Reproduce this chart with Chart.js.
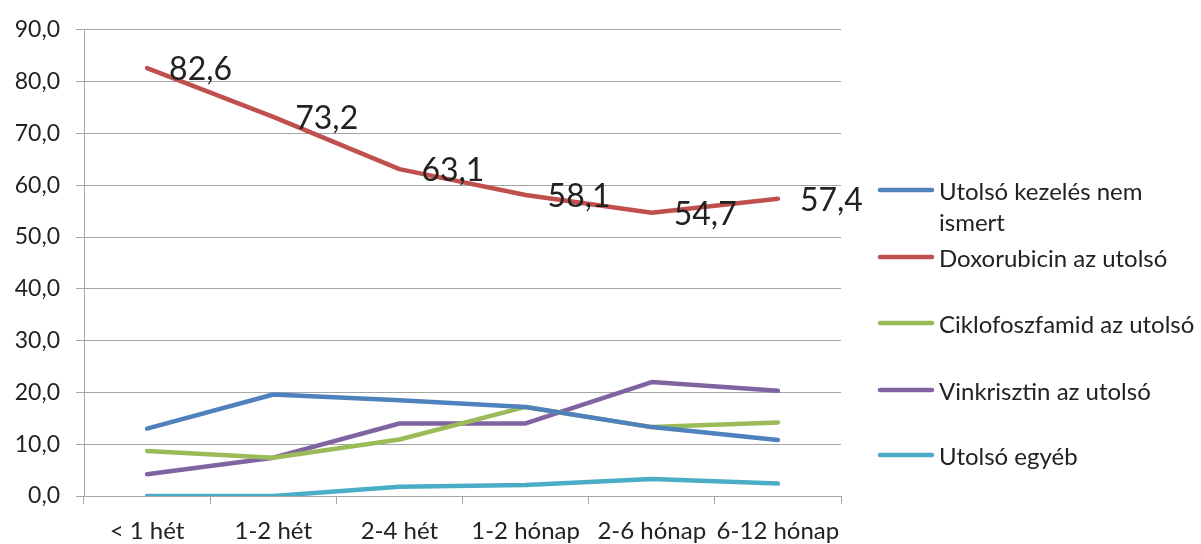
<!DOCTYPE html>
<html>
<head>
<meta charset="utf-8">
<script src="https://cdn.jsdelivr.net/npm/chart.js@4"></script>
<style>
  html, body { margin: 0; padding: 0; background: #fff; }
  #wrap { width: 1201px; height: 544px; }
</style>
</head>
<body>
<div id="wrap"><canvas id="lineChart" width="1201" height="544"></canvas></div>
<script>
const categories = ['< 1 hét', '1-2 hét', '2-4 hét', '1-2 hónap', '2-6 hónap', '6-12 hónap'];
const seriesNames = ['Utolsó kezelés nem ismert', 'Doxorubicin az utolsó', 'Ciklofoszfamid az utolsó', 'Vinkrisztin az utolsó', 'Utolsó egyéb'];
const ismeretlen  = [13.0, 19.6, 18.5, 17.2, 13.3, 10.8];
const doxorubicin = [82.6, 73.2, 63.1, 58.1, 54.7, 57.4];
const ciklofoszf  = [8.7, 7.4, 10.9, 17.2, 13.3, 14.2];
const vinkrisztin = [4.2, 7.4, 14.0, 14.0, 22.0, 20.3];
const egyeb       = [0.0, 0.0, 1.8, 2.1, 3.3, 2.4];
const yTicks = [0, 10, 20, 30, 40, 50, 60, 70, 80, 90];

const Colors = ['#4F81BD', '#C0504D', '#9BBB59', '#8064A2', '#4BACC6'];
const FONT = 'Lato, "Open Sans", sans-serif';
const fmt = v => v.toFixed(1).replace('.', ',');

// labels for the red series, right of each point
const valueLabels = {
    id: 'valueLabels',
    afterDatasetsDraw(chart) {
        const ctx = chart.ctx;
        const meta = chart.getDatasetMeta(1);
        ctx.save();
        ctx.font = '32px ' + FONT;
        ctx.fillStyle = '#222';
        ctx.textAlign = 'left';
        ctx.textBaseline = 'middle';
        meta.data.forEach((pt, i) => {
            ctx.fillText(fmt(doxorubicin[i]), pt.x + 22, pt.y + 2);
        });
        ctx.restore();
    }
};

// legend on the right, wrapped like the original
const sideLegend = {
    id: 'sideLegend',
    afterDraw(chart) {
        const ctx = chart.ctx;
        const rows = [190, 257, 323, 390, 455];
        const textX = 939, maxW = 260;
        ctx.save();
        ctx.font = '24px ' + FONT;
        ctx.textBaseline = 'middle';
        ctx.textAlign = 'left';
        chart.data.datasets.forEach((ds, i) => {
            const y = rows[i];
            ctx.strokeStyle = ds.borderColor;
            ctx.lineWidth = 4.5;
            ctx.lineCap = 'round';
            ctx.beginPath();
            ctx.moveTo(880, y);
            ctx.lineTo(932, y);
            ctx.stroke();
            // simple word wrap
            let words = ds.label.split(' '), line = '', lines = [];
            words.forEach(w => {
                const test = line ? line + ' ' + w : w;
                if (ctx.measureText(test).width > maxW && line) { lines.push(line); line = w; }
                else line = test;
            });
            lines.push(line);
            ctx.fillStyle = '#222';
            lines.forEach((l, k) => ctx.fillText(l, textX, y + 2 + k * 31));
        });
        ctx.restore();
    }
};

const dataSets = [ismeretlen, doxorubicin, ciklofoszf, vinkrisztin, egyeb];

new Chart(document.getElementById('lineChart'), {
    type: 'line',
    data: {
        labels: categories,
        datasets: dataSets.map((d, i) => ({
            label: seriesNames[i],
            data: d,
            borderColor: Colors[i],
            backgroundColor: Colors[i],
            borderWidth: 4.5,
            borderCapStyle: 'round',
            borderJoinStyle: 'round',
            pointRadius: 0,
            tension: 0,
            fill: false
        }))
    },
    options: {
        responsive: false,
        animation: false,
        layout: { padding: { left: 0, right: 360, top: 28, bottom: 0 } },
        plugins: { legend: { display: false }, tooltip: { enabled: false } },
        scales: {
            x: {
                offset: true,
                grid: { offset: true, drawOnChartArea: false, tickLength: 8, color: '#a6a6a6' },
                border: { color: '#a6a6a6' },
                ticks: { color: '#222', font: { family: FONT, size: 24 }, padding: 13, maxRotation: 0, autoSkip: false },
                afterFit: s => { s.height = 48; }
            },
            y: {
                min: 0, max: 90,
                afterBuildTicks: s => { s.ticks = yTicks.map(v => ({ value: v })); },
                grid: { tickLength: 8, color: '#a6a6a6' },
                border: { color: '#a6a6a6' },
                ticks: { color: '#222', font: { family: FONT, size: 23 }, padding: 16, callback: v => fmt(v) },
                afterFit: s => { s.width = 84; }
            }
        }
    },
    plugins: [valueLabels, sideLegend]
});
</script>
</body>
</html>
